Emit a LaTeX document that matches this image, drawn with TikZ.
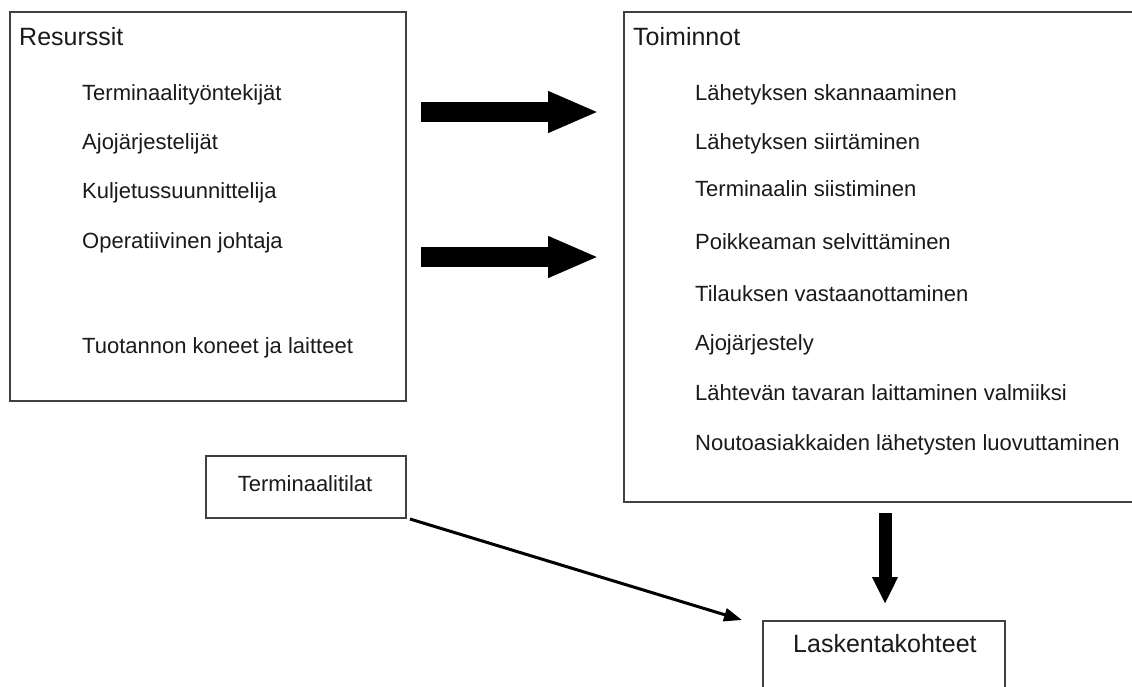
\documentclass[tikz,border=0pt]{standalone}
\usepackage{fontspec}
\setmainfont{Liberation Sans}
\usetikzlibrary{arrows.meta}
\newcommand\bodyfs{\fontsize{22}{26}\selectfont}
\newcommand\headfs{\fontsize{25}{30}\selectfont}
\definecolor{boxline}{HTML}{404040}
\definecolor{txt}{HTML}{1A1A1A}
\tikzset{
  frame/.style={draw=boxline, line width=1.5pt, inner sep=0pt, anchor=north west},
  item/.style={anchor=base west, inner sep=0pt, text=txt, font=\bodyfs},
  head/.style={anchor=base west, inner sep=0pt, text=txt, font=\headfs},
  blockarrow/.style={line width=20pt, -{Triangle[length=51pt, width=38pt]}},
  downarrow/.style={line width=13pt, -{Triangle[length=27pt, width=24pt]}},
  thinarrow/.style={line width=3pt, -{Triangle[length=18pt, width=13pt]}}
}
\begin{document}
\begin{tikzpicture}[x=1pt, y=-1pt]
\useasboundingbox (0,0) rectangle (1132,686);
\clip (0,0) rectangle (1132,686);
\fill[white] (0,0) rectangle (1132,686);
% boxes
\node[frame, minimum width=396pt, minimum height=389pt] (res) at (9,11) {};
\node[frame, minimum width=530pt, minimum height=490pt] (toim) at (623,11) {};
\node[frame, minimum width=200pt, minimum height=62pt] (tila) at (205,455) {};
\node[frame, minimum width=242pt, minimum height=90pt] (lask) at (762,620) {};
% headings
\node[head] (resh) at (19,45) {Resurssit};
\node[head] (toimh) at (633,45) {Toiminnot};
\node[head] (laskh) at (793,652) {Laskentakohteet};
\node[item, anchor=base] (tilat) at (305,491) {Terminaalitilat};
% resources
\node[item] (r1) at (82,100) {Terminaalityöntekijät};
\node[item] (r2) at (82,149) {Ajojärjestelijät};
\node[item] (r3) at (82,198) {Kuljetussuunnittelija};
\node[item] (r4) at (82,248) {Operatiivinen johtaja};
\node[item] (r5) at (82,353) {Tuotannon koneet ja laitteet};
% activities
\node[item] (t1) at (695,100) {Lähetyksen skannaaminen};
\node[item] (t2) at (695,149) {Lähetyksen siirtäminen};
\node[item] (t3) at (695,196) {Terminaalin siistiminen};
\node[item] (t4) at (695,249) {Poikkeaman selvittäminen};
\node[item] (t5) at (695,301) {Tilauksen vastaanottaminen};
\node[item] (t6) at (695,350) {Ajojärjestely};
\node[item] (t7) at (695,400) {Lähtevän tavaran laittaminen valmiiksi};
\node[item] (t8) at (695,450) {Noutoasiakkaiden lähetysten luovuttaminen};
% arrow end points
\coordinate (a1s) at (421,112);
\coordinate (a1e) at (599,112);
\coordinate (a2s) at (421,257);
\coordinate (a2e) at (599,257);
\coordinate (a3s) at (885,513);
\coordinate (a3e) at (885,604);
\coordinate (a4s) at (410,519);
\coordinate (a4e) at (742,620);
\draw[blockarrow] (a1s) -- (a1e);
\draw[blockarrow] (a2s) -- (a2e);
\draw[downarrow] (a3s) -- (a3e);
\draw[thinarrow] (a4s) -- (a4e);
\end{tikzpicture}
\end{document}
